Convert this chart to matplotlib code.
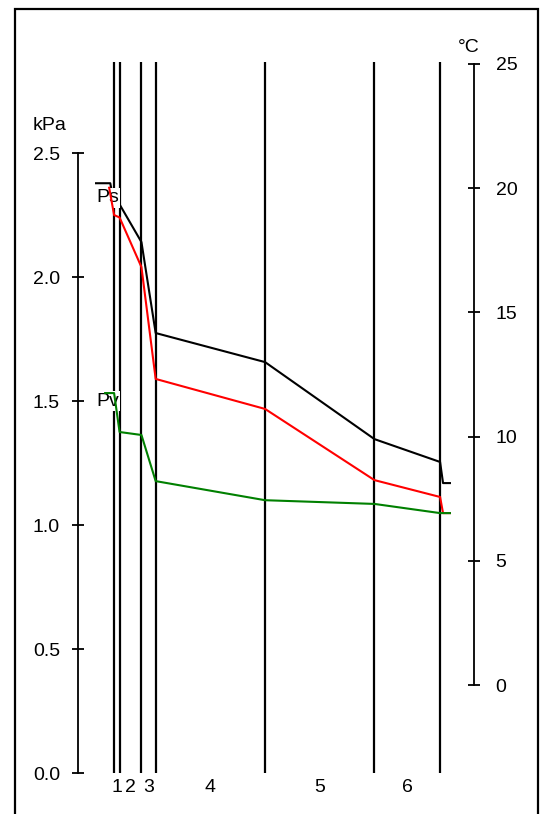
import matplotlib
matplotlib.use("Agg")
import matplotlib.pyplot as plt
from matplotlib.patches import Rectangle

plt.rcParams['font.family'] = ['Liberation Sans', 'DejaVu Sans']

# layer boundaries (mm) and layer labels
boundaries = [0, 5, 25, 38, 138, 238, 298]
layer_labels = ['1', '2', '3', '4', '5', '6']

# temperature profile (°C)
t_x = [-16.5, -3.5, 0, 5, 25, 38, 138, 238, 298, 300.7, 307]
t_val = [20.2, 20.2, 19.4, 19.35, 17.83, 14.17, 13.0, 9.9, 8.98, 8.13, 8.13]

# saturation vapour pressure Ps (kPa)
ps_x = [-4.5, 0, 5, 25, 38, 138, 238, 298, 300.7, 307]
ps_val = [2.36, 2.25, 2.24, 2.04, 1.589, 1.468, 1.181, 1.113, 1.048, 1.048]

# partial vapour pressure Pv (kPa)
pv_x = [-8.2, 0, 5, 25, 38, 138, 238, 298, 307]
pv_val = [1.532, 1.532, 1.375, 1.363, 1.177, 1.10, 1.085, 1.048, 1.048]

kpa_ticks = [0.0, 0.5, 1.0, 1.5, 2.0, 2.5]
c_ticks = [0, 5, 10, 15, 20, 25]

W, H = 545, 814
fig = plt.figure(figsize=(W / 100, H / 100), dpi=100)

# figure frame
fig.patches.append(Rectangle((15 / W, -0.05), (538 - 15) / W, 1 - 9 / H + 0.05,
                             transform=fig.transFigure, fill=False,
                             edgecolor='black', linewidth=1.6))

FS = 14

ax = fig.add_axes([78 / W, 1 - 773 / H, (474 - 78) / W, (773 - 62) / H])
ax.set_xlim(-33, 329)
ax.set_ylim(0, 2.867)
ax.patch.set_visible(False)
for s in ['top', 'right', 'bottom']:
    ax.spines[s].set_visible(False)
ax.spines['left'].set_bounds(0, 2.5)
ax.spines['left'].set_linewidth(1.3)
ax.set_yticks(kpa_ticks)
ax.set_yticklabels([f"{v:.1f}" for v in kpa_ticks])
ax.tick_params(axis='y', direction='inout', length=9, width=1.3, pad=8.5, labelsize=FS)

mids = [(boundaries[i] + boundaries[i + 1]) / 2 for i in range(len(boundaries) - 1)]
ax.set_xticks(mids)
ax.set_xticklabels(layer_labels)
ax.tick_params(axis='x', length=0, pad=4, labelsize=FS)

for b in boundaries:
    ax.axvline(b, color='black', linewidth=1.6, zorder=1)

ax2 = ax.twinx()
ax2.set_ylim(-3.54, 25.08)
for s in ['top', 'left', 'bottom']:
    ax2.spines[s].set_visible(False)
ax2.spines['right'].set_bounds(0, 25)
ax2.spines['right'].set_linewidth(1.3)
ax2.set_yticks(c_ticks)
ax2.tick_params(axis='y', direction='inout', length=9, width=1.3, pad=11, labelsize=FS)

# temperature on right axis, below labels
ax2.plot(t_x, t_val, color='black', linewidth=1.5, zorder=2)

# labels with white background
ax3 = fig.add_axes(ax.get_position(), sharex=ax, sharey=ax)
ax3.axis('off')
ax3.patch.set_visible(False)
ax3.text(-16.5, 2.32, 'Ps', fontsize=FS, va='center', ha='left',
         bbox=dict(facecolor='white', edgecolor='none', pad=1))
ax3.text(-16.5, 1.50, 'Pv', fontsize=FS, va='center', ha='left',
         bbox=dict(facecolor='white', edgecolor='none', pad=1))

ax4 = fig.add_axes(ax.get_position(), sharex=ax, sharey=ax)
ax4.axis('off')
ax4.patch.set_visible(False)
ax4.plot(ps_x, ps_val, color='red', linewidth=1.5)
ax4.plot(pv_x, pv_val, color='green', linewidth=1.5)

fig.text(33 / W, 1 - 125 / H, 'kPa', fontsize=FS, va='center', ha='left')
fig.text(458 / W, 1 - 47 / H, '°C', fontsize=FS, va='center', ha='left')

fig.savefig('out.png', dpi=100)
